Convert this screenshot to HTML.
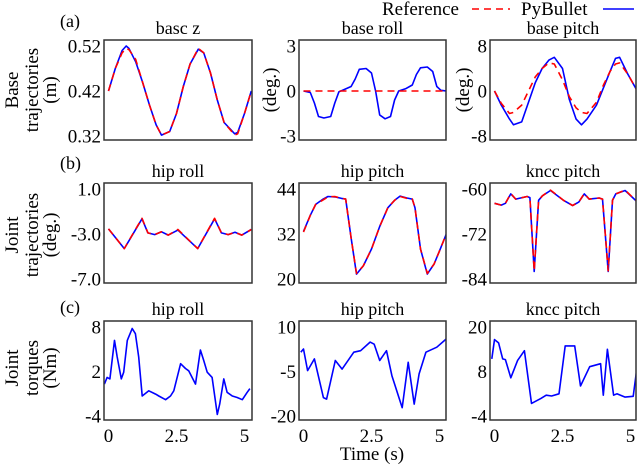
<!DOCTYPE html>
<html><head><meta charset="utf-8">
<style>
html,body{margin:0;padding:0;background:#fff;}
svg, svg text{font-family:"Liberation Serif","DejaVu Serif",serif;}
</style></head>
<body>
<svg id="fig" width="640" height="466" viewBox="0 0 640 466" font-family="Liberation Serif, DejaVu Serif, serif">
  <g>
    <text x="382" y="15" font-size="19">Reference</text>
    <line x1="472" y1="9" x2="510" y2="9" stroke="#f00" stroke-width="1.6" stroke-dasharray="7,5"/>
    <text x="521" y="15" font-size="19">PyBullet</text>
    <line x1="603" y1="9" x2="634" y2="9" stroke="#00f" stroke-width="1.6"/>
  </g>
  <text x="60" y="27" font-size="18">(a)</text>
  <text x="60" y="169" font-size="18">(b)</text>
  <text x="60" y="313" font-size="18">(c)</text>
  <g font-size="19" text-anchor="middle">
    <text transform="translate(18,90) rotate(-90)">Base</text>
    <text transform="translate(38,90) rotate(-90)">trajectories</text>
    <text transform="translate(56,90) rotate(-90)">(m)</text>
    <text transform="translate(18,235) rotate(-90)">Joint</text>
    <text transform="translate(38,235) rotate(-90)">trajectories</text>
    <text transform="translate(56,235) rotate(-90)">(deg.)</text>
    <text transform="translate(18,368) rotate(-90)">Joint</text>
    <text transform="translate(38,368) rotate(-90)">torques</text>
    <text transform="translate(56,368) rotate(-90)">(Nm)</text>
    <text transform="translate(276,90) rotate(-90)">(deg.)</text>
    <text transform="translate(469,90) rotate(-90)">(deg.)</text>
  </g>
  <text x="372" y="460" font-size="19" text-anchor="middle">Time (s)</text>
</svg>
<script>
// ---- data ----
const baseZT = [0,0.25,0.5,0.65,0.75,1,1.25,1.5,1.75,1.95,2.25,2.5,2.75,3,3.3,3.5,3.75,4,4.25,4.64,4.75,5,5.25];
const baseZRef = [0.42,0.47,0.505,0.515,0.512,0.49,0.44,0.39,0.345,0.322,0.33,0.37,0.43,0.48,0.515,0.505,0.46,0.40,0.35,0.322,0.325,0.37,0.42];
const baseZPy  = [0.42,0.47,0.51,0.52,0.515,0.485,0.44,0.39,0.345,0.322,0.33,0.37,0.43,0.48,0.513,0.505,0.46,0.40,0.35,0.325,0.328,0.37,0.42];
const rollT = [0,0.25,0.4,0.55,0.75,1.0,1.15,1.3,1.5,1.75,1.9,2.05,2.3,2.5,2.65,2.8,3.0,3.2,3.35,3.5,3.75,4.0,4.15,4.3,4.55,4.75,4.9,5.05,5.25];
const rollRef = [0,0,0,0,0,0,0,0,0,0,0,0,0,0,0,0,0,0,0,0,0,0,0,0,0,0,0,0,0];
const rollPy  = [0,-0.1,-0.8,-1.7,-1.8,-1.7,-0.8,-0.05,0.1,0.3,0.8,1.45,1.5,1.2,0,-1.6,-1.85,-1.7,-0.6,0.0,0.15,0.4,1.1,1.55,1.6,1.3,0.3,0.05,0];
const pitchT = [0,0.25,0.55,0.7,1.0,1.25,1.5,1.75,2.0,2.2,2.5,2.75,3.0,3.2,3.4,3.75,4.0,4.25,4.45,4.6,4.9,5.25];
const pitchRef = [0,-2.2,-4,-3.8,-2.5,0,2.5,4,5,4.8,2,-1,-3,-3.8,-4,-2,1,3.5,4.8,5,3,0];
const pitchPy  = [0,-2.5,-5,-6,-5.5,-2,1.5,4,5.5,6,4,-1.5,-5,-6,-5,-2.5,0.5,3.5,5.8,6,3,0];
const hipRollT = [0,0.58,1.23,1.45,1.7,1.95,2.2,2.55,3.28,3.9,4.15,4.4,4.65,4.9,5.25];
const hipRollRef = [-2.55,-4.3,-1.6,-2.9,-3.05,-2.8,-3.1,-2.6,-4.3,-1.6,-2.9,-3.05,-2.85,-3.1,-2.6];
const hipRollPy  = [-2.55,-4.3,-1.65,-2.9,-3.05,-2.8,-3.1,-2.65,-4.3,-1.65,-2.9,-3.05,-2.85,-3.1,-2.6];
const hipPitchT = [0,0.25,0.45,0.7,0.9,1.15,1.4,1.55,1.75,1.95,2.2,2.5,2.8,3.1,3.35,3.55,3.8,4.0,4.1,4.3,4.55,4.8,5.0,5.25];
const hipPitchRef = [32.5,37,39.9,41,41.9,42,41.5,41.3,31,21.5,23.5,28,34,39,41,42,41.5,41.3,39,28,21.5,24,27.5,32];
const hipPitchPy  = [32.7,37,39.9,41.2,42,41.9,41.5,41.3,31,21.3,23.5,28,34,39,41,42.1,41.6,41.3,39,28,21.3,24,27.5,32];
const kneeT = [0,0.25,0.4,0.6,0.78,1.2,1.3,1.46,1.62,1.76,2.06,2.55,2.87,3.1,3.3,3.48,3.85,3.97,4.18,4.34,4.46,4.8,5.3];
const kneeRef = [-63.8,-64.3,-63.8,-61.2,-62.7,-62,-62.3,-81.8,-63,-61.8,-60.3,-63.1,-64.4,-63.5,-61.2,-62.7,-62.4,-62.7,-81.8,-63,-61.3,-60.3,-63.8];
const kneePy  = [-63.8,-64.3,-63.8,-61.3,-62.7,-62,-62.3,-82,-63,-61.8,-60.4,-63.1,-64.4,-63.5,-61.3,-62.7,-62.4,-62.7,-82,-63,-61.3,-60.4,-63.8];
const tqHipRollT = [-0.15,-0.05,0.05,0.22,0.32,0.47,0.56,0.69,0.87,0.99,1.11,1.24,1.48,1.73,1.85,2.1,2.28,2.4,2.65,2.83,2.95,3.2,3.38,3.5,3.63,3.81,4.0,4.09,4.24,4.36,4.55,4.73,4.92,5.1,5.2];
const tqHipRoll = [0.3,1.2,1.0,6.2,3.95,1.0,1.9,6.2,7.8,7.1,3.95,-1.3,-0.6,-1.05,-1.3,-1.8,-1.3,-0.6,3.05,2.4,2.1,0.3,4.9,3.5,1.9,1.2,-3.8,-2.4,1.0,-0.8,-1.3,-1.5,-1.8,-0.8,-0.3];
const tqHipPitchT = [-0.1,0.0,0.15,0.4,0.73,0.85,1.17,1.42,1.85,2.1,2.45,2.6,2.8,3.05,3.25,3.63,3.85,4.07,4.25,4.5,4.9,5.25];
const tqHipPitch = [1.5,2.6,-4.7,-0.75,-13.8,-14.3,-1.3,-4.2,1.5,2,4.9,4.2,-1.3,2,-6.4,-17.2,-1.9,-16,-5.8,1.5,3.2,6];
const tqKneeT = [-0.1,0.0,0.15,0.3,0.4,0.6,0.85,1.1,1.36,1.7,1.9,2.1,2.37,2.6,2.95,3.16,3.5,3.9,4.0,4.15,4.38,4.5,4.8,5.1,5.25];
const tqKnee = [11.4,16.6,15.7,11.4,11.2,6.3,11,13.6,-0.6,0.7,1.6,1.4,2,14.9,14.9,4.1,9.3,10.1,1.6,14,1.6,2,1.1,1.3,9.7];
const yTicksBaseZ = ["0.52","0.42","0.32"];
const yTicksRoll = ["3","0","-3"];
const yTicksPitch = ["8","0","-8"];
const yTicksHipRoll = ["1.0","-3.0","-7.0"];
const yTicksHipPitch = ["44","32","20"];
const yTicksKnee = ["-60","-72","-84"];
const yTicksTqHipRoll = ["8","2","-4"];
const yTicksTqHipPitch = ["10","-5","-20"];
const yTicksTqKnee = ["20","8","-4"];
const xTicks = ["0","2.5","5"];
const xTickVals = [0,2.5,5];

const NS = "http://www.w3.org/2000/svg";
const svg = document.getElementById('fig');
const cols = [[104,252],[299,446],[490,636]];
const rows = [[40,140],[183,283],[321,420]];
function mk(tag, attrs){const e=document.createElementNS(NS,tag);for(const k in attrs)e.setAttribute(k,attrs[k]);return e;}

function panel(name, title, r, c, ticks, series, showX){
  const [x0,x1]=cols[c],[y0,y1]=rows[r];
  const g=mk('g',{});
  
  
  svg.appendChild(g);
  const hi=parseFloat(ticks[0]), lo=parseFloat(ticks[ticks.length-1]);
  const ty0=y0+6, ty1=y1-4;
  const xs=t=>x0+4.5+t*27.2;
  const ys=v=>ty1-(v-lo)/(hi-lo)*(ty1-ty0);
  const tt=mk('text',{x:(x0+x1)/2,y:y0-6,'font-size':18,'text-anchor':'middle'});
  tt.textContent=title;
  
  
  g.appendChild(tt);
  ticks.forEach(s=>{
    const v=parseFloat(s);
    const t=mk('text',{x:x0-3,y:ys(v)+6.5,'font-size':19,'text-anchor':'end'});
    t.textContent=s;
    
    
    g.appendChild(t);
  });
  if(showX){
    xTicks.forEach((s,i)=>{
      const t=mk('text',{x:xs(xTickVals[i]),y:442,'font-size':19,'text-anchor':'middle'});
      t.textContent=s;
      
      
      g.appendChild(t);
    });
  }
  const cid='clip-'+name;
  const cp=mk('clipPath',{id:cid});cp.appendChild(mk('rect',{x:x0,y:y0,width:x1-x0,height:y1-y0}));g.appendChild(cp);
  series.forEach(s=>{
    const d=s.t.map((t,i)=>(i?'L':'M')+xs(t).toFixed(1)+','+ys(s.v[i]).toFixed(1)).join(' ');
    const p=mk('path',{d:d,fill:'none',stroke:s.col,'stroke-width':1.6,'clip-path':'url(#'+cid+')','stroke-linejoin':'round'});
    if(s.dash)p.setAttribute('stroke-dasharray','7,5');
    
    
    g.appendChild(p);
  });
  const b=mk('rect',{x:x0,y:y0,width:x1-x0,height:y1-y0,fill:'none',stroke:'#333','stroke-width':1.5});
  
  
  g.appendChild(b);
}
panel('base-z','basc z',0,0,yTicksBaseZ,[{t:baseZT,v:baseZPy,col:'#00f',n:'pybullet'},{t:baseZT,v:baseZRef,col:'#f00',dash:1,n:'reference'}],false);
panel('base-roll','base roll',0,1,yTicksRoll,[{t:rollT,v:rollPy,col:'#00f',n:'pybullet'},{t:rollT,v:rollRef,col:'#f00',dash:1,n:'reference'}],false);
panel('base-pitch','base pitch',0,2,yTicksPitch,[{t:pitchT,v:pitchPy,col:'#00f',n:'pybullet'},{t:pitchT,v:pitchRef,col:'#f00',dash:1,n:'reference'}],false);
panel('hip-roll-traj','hip roll',1,0,yTicksHipRoll,[{t:hipRollT,v:hipRollPy,col:'#00f',n:'pybullet'},{t:hipRollT,v:hipRollRef,col:'#f00',dash:1,n:'reference'}],false);
panel('hip-pitch-traj','hip pitch',1,1,yTicksHipPitch,[{t:hipPitchT,v:hipPitchPy,col:'#00f',n:'pybullet'},{t:hipPitchT,v:hipPitchRef,col:'#f00',dash:1,n:'reference'}],false);
panel('knee-pitch-traj','kncc pitch',1,2,yTicksKnee,[{t:kneeT,v:kneePy,col:'#00f',n:'pybullet'},{t:kneeT,v:kneeRef,col:'#f00',dash:1,n:'reference'}],false);
panel('hip-roll-torque','hip roll',2,0,yTicksTqHipRoll,[{t:tqHipRollT,v:tqHipRoll,col:'#00f',n:'pybullet'}],true);
panel('hip-pitch-torque','hip pitch',2,1,yTicksTqHipPitch,[{t:tqHipPitchT,v:tqHipPitch,col:'#00f',n:'pybullet'}],true);
panel('knee-pitch-torque','kncc pitch',2,2,yTicksTqKnee,[{t:tqKneeT,v:tqKnee,col:'#00f',n:'pybullet'}],true);
</script>
</body></html>
